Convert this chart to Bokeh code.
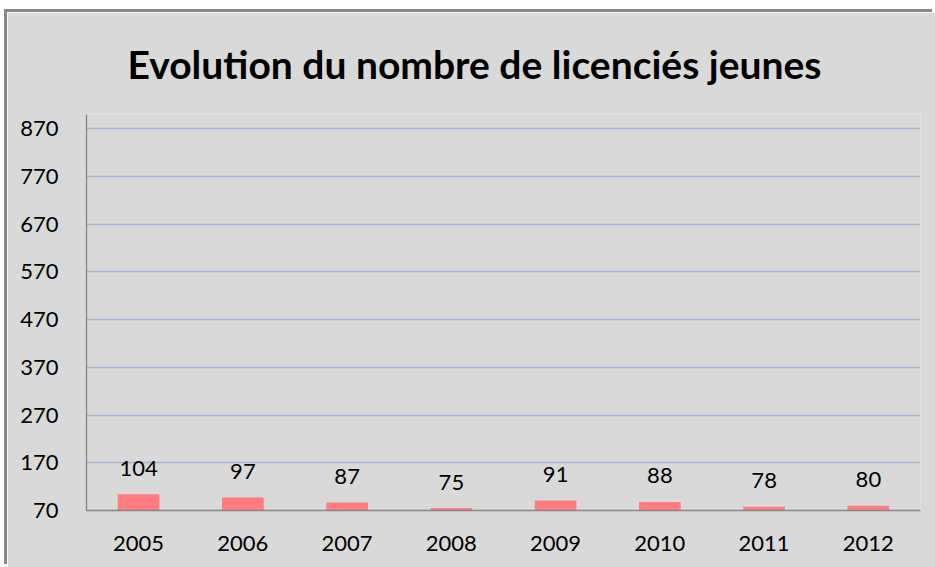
from bokeh.plotting import figure
from bokeh.models import Range1d, FixedTicker, ColumnDataSource, Title
from bokeh.core.properties import value
from bokeh.embed import file_html
from bokeh.resources import INLINE

years = ["2005", "2006", "2007", "2008", "2009", "2010", "2011", "2012"]
licencies = [104, 97, 87, 75, 91, 88, 78, 80]
y_ticks = [70, 170, 270, 370, 470, 570, 670, 770, 870]
title_text = "Evolution du nombre de licenciés jeunes"

BG = "#d9d9d9"
FONT = "Lato"

src = ColumnDataSource(dict(x=years, top=licencies, lab=[str(v) for v in licencies]))

p = figure(x_range=years, y_range=Range1d(70, 900),
           frame_width=834, frame_height=396,
           min_border_left=79, min_border_right=15, min_border_top=102, min_border_bottom=57,
           output_backend="svg", toolbar_location=None,
           background_fill_color=BG, border_fill_color=BG, outline_line_color=None)
p.margin = (12, 0, 0, 7)
p.styles = {"box-shadow": "-3px -3px 0px 0px #878787"}

t = Title(text=title_text, align="left", vertical_align="top", text_font=FONT,
          text_font_size="39px", text_font_style="bold", text_color="#000000",
          offset=41, standoff=52)
p.add_layout(t, "above")

p.vbar(x="x", top="top", bottom=70, width=0.4, source=src, color="#ff7c80", line_color=None)
p.text(x="x", y="top", text="lab", source=src, y_offset=-26, text_align="center",
       text_baseline="middle", text_font=value(FONT), text_font_size="22px", text_color="#000000")

p.yaxis.ticker = FixedTicker(ticks=y_ticks)
p.ygrid.ticker = FixedTicker(ticks=y_ticks)
p.ygrid.grid_line_color = "#a6b8cf"
p.ygrid.grid_line_width = 1.6
p.xgrid.grid_line_color = None

for ax in (p.xaxis, p.yaxis):
    ax.axis_line_color = "#868686"
    ax.axis_line_width = 1.3
    ax.major_tick_line_color = None
    ax.minor_tick_line_color = None
    ax.major_label_text_font = FONT
    ax.major_label_text_font_size = "22px"
    ax.major_label_text_color = "#000000"
p.yaxis.major_label_standoff = 22
p.xaxis.major_label_standoff = 19

open("out.html", "w").write(file_html(p, INLINE))
